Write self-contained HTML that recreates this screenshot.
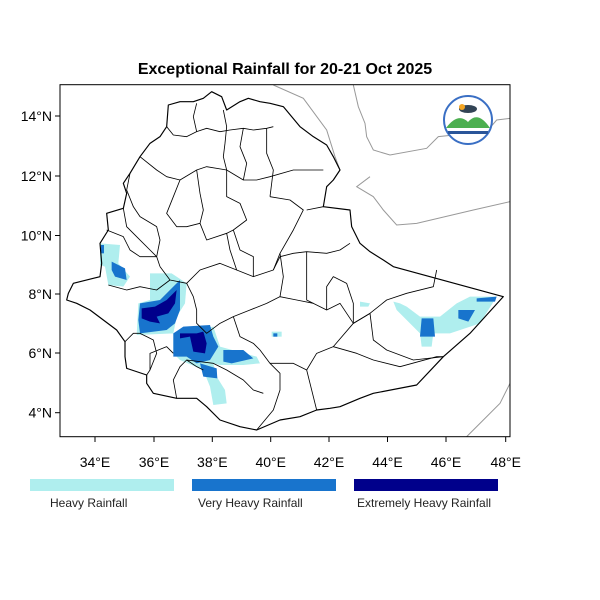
<!DOCTYPE html>
<html><head><style>
body{margin:0;background:#fff;}
svg{display:block;font-family:"Liberation Sans",sans-serif;}
</style></head><body>
<svg width="600" height="600" viewBox="0 0 600 600">
<rect width="600" height="600" fill="#fff"/>
<text x="285" y="74" text-anchor="middle" font-size="16" font-weight="bold">Exceptional Rainfall for 20-21 Oct 2025</text>
<defs><clipPath id="c"><rect x="60" y="84.7" width="450" height="352"/></clipPath></defs>
<g clip-path="url(#c)">
<g transform="translate(40,70) scale(0.33333)">
<!-- gray lines -->
<g fill="none" stroke="#999" stroke-width="3">
<polyline points="700,45 790,85 860,180 885,260 900,300"/>
<polyline points="940,45 955,110 975,160 980,200 1000,240 1050,255 1160,235 1195,200 1340,185 1370,150 1410,145"/>
<polyline points="990,320 950,350 1000,380 1030,420 1070,465 1130,460 1300,420 1410,395"/>
<polyline points="1410,940 1380,1000 1330,1050 1280,1100"/>
</g>
<!-- rain -->
<g fill="#afeeee">
<polygon points="330,610 395,610 440,640 435,700 410,740 400,790 290,795 295,700 330,690"/>
<polygon points="180,520 240,525 235,580 270,620 250,650 205,645 195,590 180,585"/>
<polygon points="400,790 520,770 540,830 650,860 660,880 610,885 540,885 520,880 530,920 555,960 560,1000 520,1005 510,950 490,900 420,870 400,850"/>
<polygon points="960,695 990,700 985,710 960,710"/>
<polygon points="1060,695 1080,700 1100,710 1140,740 1200,740 1250,700 1290,680 1370,680 1320,760 1230,790 1180,790 1175,830 1145,830 1140,790 1070,720"/>
<polygon points="695,785 725,785 725,800 695,800"/>
</g>
<g fill="#1874cd">
<polygon points="215,575 255,595 260,630 225,620 215,600"/>
<polygon points="183,525 192,525 192,550 183,550"/>
<polygon points="300,700 360,690 400,650 420,630 420,720 405,760 380,780 300,790 295,750"/>
<polygon points="400,790 430,770 510,765 520,800 535,830 510,870 470,880 440,860 400,860"/>
<polygon points="550,840 610,840 640,865 575,880 550,875"/>
<polygon points="1145,745 1180,745 1185,800 1140,800"/>
<polygon points="1255,720 1305,720 1285,755 1255,745"/>
<polygon points="1310,685 1370,680 1365,695 1310,695"/>
<polygon points="480,880 530,895 532,925 490,920"/>
<polygon points="700,790 712,790 712,800 700,800"/>
</g>
<g fill="#00008b">
<polygon points="305,715 345,710 380,690 410,660 405,700 385,730 350,740 360,760 330,755 305,745"/>
<polygon points="420,790 470,790 490,785 500,820 495,850 460,845 450,800 420,805"/>
</g>
<!-- outline -->
<g fill="none" stroke="#000" stroke-width="3.5" stroke-linejoin="round">
<polygon points="515,65 545,80 560,120 600,95 625,85 660,95 690,100 730,110 780,170 820,200 860,225 880,260 900,300 880,330 860,350 850,410 930,420 935,470 960,520 990,545 1030,570 1060,590 1390,680 1290,790 1210,860 1130,945 1000,970 960,985 900,1010 870,1015 830,1020 780,1040 720,1050 650,1080 600,1070 540,1050 500,1010 470,985 410,985 340,970 320,940 320,915 260,895 255,860 255,815 230,780 150,720 110,700 80,690 85,670 100,640 160,625 180,620 185,580 180,520 205,480 200,430 250,415 260,370 250,340 270,310 300,260 330,220 360,200 380,170 385,105 420,95 460,95 490,85"/>
<g stroke-width="2.5">
<polyline points="380,170 400,195 440,200 470,185 500,175 540,185 570,180 610,175 640,180 680,175 700,170"/>
<polyline points="470,185 460,140 470,100"/>
<polyline points="550,120 560,170 555,220 550,260 560,300"/>
<polyline points="610,175 600,230 620,280 610,330"/>
<polyline points="680,175 680,250 700,300 690,380"/>
<polyline points="300,260 350,300 380,320 420,330 470,300 500,290 560,300 610,330 650,330 690,320 760,300 800,300 850,300"/>
<polyline points="270,310 260,360 280,410 300,440 350,470 360,510 350,560 360,590"/>
<polyline points="420,330 400,380 380,430 410,470 440,470 480,460 490,420 480,370 470,300"/>
<polyline points="480,460 500,510 560,490 570,540 590,600"/>
<polyline points="560,300 560,380 600,400 620,450 580,480 560,490"/>
<polyline points="690,380 750,390 790,420 760,480 720,550 700,600"/>
<polyline points="800,420 850,410"/>
<polyline points="360,590 390,630 440,640 480,600 540,580 590,600 640,620 700,600 720,560 760,550 800,545 860,550 900,540 930,520"/>
<polyline points="250,415 260,470 290,500 330,540 350,560"/>
<polyline points="200,480 250,500 270,540 300,560 350,560"/>
<polyline points="205,645 260,660 300,650 350,660 390,630"/>
<polyline points="255,815 280,790 300,790 320,800 340,810 350,850 330,900 320,915"/>
<polyline points="440,640 460,680 470,720 470,760 500,790 540,760 580,740 630,720 680,700 720,680 770,690 820,700 860,720 900,700 940,760 990,730 1040,690 1100,670 1180,650 1190,600"/>
<polyline points="580,740 600,800 640,820 660,840 690,880 720,910 720,960 700,1020 650,1080"/>
<polyline points="690,880 760,880 800,900 830,1020"/>
<polyline points="800,900 830,850 880,830 940,760"/>
<polyline points="880,830 950,850 1000,870 1080,890 1190,860 1210,860"/>
<polyline points="860,720 860,650 880,620 920,640 940,700 940,760"/>
<polyline points="940,760 990,730 1000,810 1040,840 1120,870 1210,860"/>
<polyline points="410,985 400,930 420,890 440,870 470,890 490,900"/>
<polyline points="440,870 520,880 560,900 610,930 640,960 670,970"/>
<polyline points="330,900 330,850 380,830 400,850"/>
<polyline points="800,545 800,620 800,690 820,700"/>
<polyline points="720,550 730,620 720,680"/>
<polyline points="580,480 600,540 640,560 640,620"/>
</g>
</g>
</g>
</g>
<!-- logo -->
<circle cx="468" cy="120" r="24" fill="#fff" stroke="#3a6fc4" stroke-width="2"/>
<path d="M446,128 Q458,112 468,122 Q478,110 490,128 Z" fill="#4caf50"/>
<ellipse cx="468" cy="109" rx="9" ry="4" fill="#345"/>
<circle cx="462" cy="107" r="3" fill="#f5a623"/>
<rect x="448" y="131" width="40" height="3" fill="#2a5599"/>
<!-- frame -->
<rect x="60" y="84.7" width="450" height="352" fill="none" stroke="#000" stroke-width="1"/>
<g stroke="#000" stroke-width="1">
<line x1="95" y1="436.7" x2="95" y2="442"/><line x1="154" y1="436.7" x2="154" y2="442"/>
<line x1="212.3" y1="436.7" x2="212.3" y2="442"/><line x1="270.7" y1="436.7" x2="270.7" y2="442"/>
<line x1="329" y1="436.7" x2="329" y2="442"/><line x1="387.5" y1="436.7" x2="387.5" y2="442"/>
<line x1="446" y1="436.7" x2="446" y2="442"/><line x1="505.7" y1="436.7" x2="505.7" y2="442"/>
<line x1="60" y1="116" x2="55" y2="116"/><line x1="60" y1="176" x2="55" y2="176"/>
<line x1="60" y1="235.5" x2="55" y2="235.5"/><line x1="60" y1="294" x2="55" y2="294"/>
<line x1="60" y1="353" x2="55" y2="353"/><line x1="60" y1="412.7" x2="55" y2="412.7"/>
</g>
<g font-size="14" text-anchor="middle">
<text x="95" y="467">34°E</text><text x="154" y="467">36°E</text><text x="212.3" y="467">38°E</text>
<text x="270.7" y="467">40°E</text><text x="329" y="467">42°E</text><text x="387.5" y="467">44°E</text>
<text x="446" y="467">46°E</text><text x="505.7" y="467">48°E</text>
</g>
<g font-size="14" text-anchor="end">
<text x="52" y="121">14°N</text><text x="52" y="181">12°N</text><text x="52" y="240.5">10°N</text>
<text x="52" y="299">8°N</text><text x="52" y="358">6°N</text><text x="52" y="417.7">4°N</text>
</g>
<rect x="30" y="479" width="144" height="12" fill="#afeeee"/>
<rect x="192" y="479" width="144" height="12" fill="#1874cd"/>
<rect x="354" y="479" width="144" height="12" fill="#00008b"/>
<g font-size="12" fill="#222">
<text x="50" y="507">Heavy Rainfall</text>
<text x="198" y="507">Very Heavy Rainfall</text>
<text x="357" y="507">Extremely Heavy Rainfall</text>
</g>
</svg>
</body></html>
